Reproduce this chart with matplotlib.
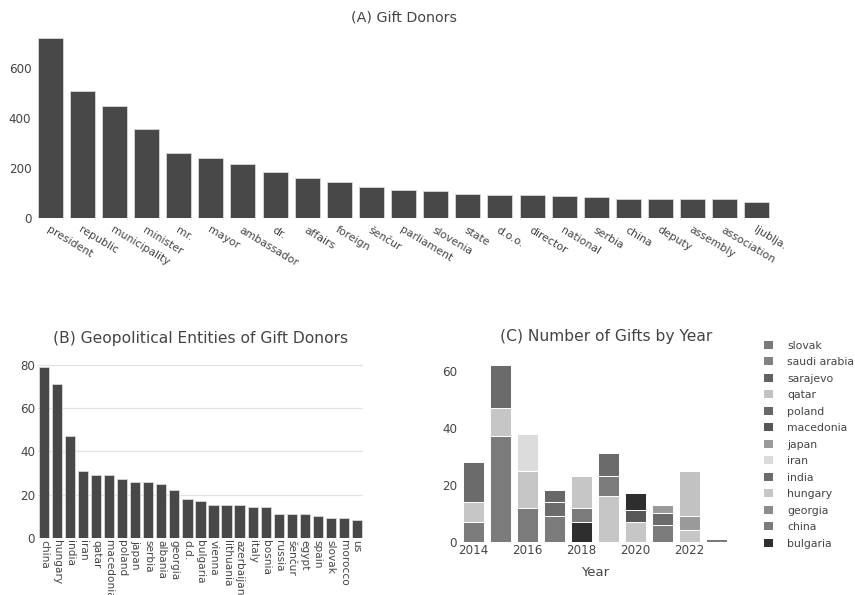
import matplotlib
matplotlib.use("Agg")
import matplotlib.pyplot as plt
from matplotlib.patches import Patch
import numpy as np

plt.rcParams['font.family'] = ['DejaVu Sans']
TXT = '#444444'

# (A) donor keywords
donor_terms = ['president', 'republic', 'municipality', 'minister', 'mr.', 'mayor',
               'ambassador', 'dr.', 'affairs', 'foreign', 'šenčur', 'parliament',
               'slovenia', 'state', 'd.o.o.', 'director', 'national', 'serbia',
               'china', 'deputy', 'assembly', 'association', 'ljublja.']
donor_counts = [719, 507, 447, 356, 260, 241, 217, 183, 161, 143, 123, 111,
                109, 95, 93, 93, 87, 85, 76, 76, 76, 76, 65]

# (B) geopolitical entities
gpe_names = ['china', 'hungary', 'india', 'iran', 'qatar', 'macedonia', 'poland',
             'japan', 'serbia', 'albania', 'georgia', 'd.d.', 'bulgaria', 'vienna',
             'lithuania', 'azerbaijan', 'italy', 'bosnia', 'russia', 'šenčur',
             'egypt', 'spain', 'slovak', 'morocco', 'us']
gpe_counts = [79, 71, 47, 31, 29, 29, 27, 26, 26, 25, 22, 18, 17, 15,
              15, 15, 14, 14, 11, 11, 11, 10, 9, 9, 8]

# (C) gifts per year, up to three stacked segments (bottom -> top)
years = [2014, 2015, 2016, 2017, 2018, 2019, 2020, 2021, 2022, 2023]
seg1_country = ['china', 'china', 'china', 'china', 'bulgaria', 'hungary', 'hungary', 'china', 'hungary', 'slovak']
seg1_value = [7, 37, 12, 9, 7, 16, 7, 6, 4, 1]
seg2_country = ['hungary', 'hungary', 'hungary', 'india', 'china', 'china', 'macedonia', 'india', 'japan', None]
seg2_value = [7, 10, 13, 5, 5, 7, 4, 4, 5, 0]
seg3_country = ['india', 'india', 'iran', 'poland', 'hungary', 'india', 'bulgaria', 'japan', 'qatar', None]
seg3_value = [14, 15, 13, 4, 11, 8, 6, 3, 16, 0]

legend_order = ['slovak', 'saudi arabia', 'sarajevo', 'qatar', 'poland', 'macedonia',
                'japan', 'iran', 'india', 'hungary', 'georgia', 'china', 'bulgaria']
country_gray = {
    'slovak': '#7a7a7a', 'saudi arabia': '#828282', 'sarajevo': '#626262',
    'qatar': '#c2c2c2', 'poland': '#676767', 'macedonia': '#575757',
    'japan': '#9a9a9a', 'iran': '#dcdcdc', 'india': '#6b6b6b',
    'hungary': '#c6c6c6', 'georgia': '#8c8c8c', 'china': '#7b7b7b',
    'bulgaria': '#2e2e2e',
}

BAR = '#484848'

fig = plt.figure(figsize=(8.55, 5.95), dpi=100)


def clean(ax):
    for s in ax.spines.values():
        s.set_visible(False)
    ax.tick_params(length=0, colors=TXT, labelsize=8.6, pad=2)


# --- (A)
ax1 = fig.add_axes([0.040, 0.634, 0.864, 0.317])
x1 = np.arange(len(donor_terms))
ax1.bar(x1, donor_counts, width=0.78, color=BAR, edgecolor='#d8d8d8', linewidth=0.6)
ax1.set_xlim(-0.5, len(donor_terms) - 0.5)
ax1.set_ylim(0, max(donor_counts) * 1.05)
ax1.set_yticks([0, 200, 400, 600])
ax1.set_xticks(x1)
ax1.set_xticklabels(donor_terms, rotation=-31, ha='left', va='top', rotation_mode='anchor')
clean(ax1)
ax1.tick_params(axis='x', pad=5, labelsize=7.8)
fig.text(0.472, 0.970, '(A) Gift Donors', ha='center', va='center', fontsize=10.3, color=TXT)

# --- (B)
ax2 = fig.add_axes([0.0444, 0.0963, 0.3802, 0.301])
x2 = np.arange(len(gpe_names))
ax2.bar(x2, gpe_counts, width=0.77, color=BAR, edgecolor='#d8d8d8', linewidth=0.6, zorder=3)
ax2.set_xlim(-0.5, len(gpe_names) - 0.5)
ax2.set_ylim(0, max(gpe_counts) * 1.05)
ax2.set_yticks([0, 20, 40, 60, 80])
ax2.set_xticks(x2)
ax2.set_xticklabels(gpe_names, rotation=-90, ha='left', va='center', rotation_mode='anchor')
ax2.grid(axis='y', color='#e2e2e2', linewidth=0.9, zorder=0)
clean(ax2)
ax2.tick_params(axis='x', labelsize=7.6)
ax2.set_title('(B) Geopolitical Entities of Gift Donors', fontsize=11.2, color=TXT, pad=11)

# --- (C)
ax3 = fig.add_axes([0.538, 0.0896, 0.316, 0.3114])
bottom = np.zeros(len(years))
for names, vals in [(seg1_country, seg1_value), (seg2_country, seg2_value), (seg3_country, seg3_value)]:
    cols = [country_gray[n] if n else 'none' for n in names]
    ax3.bar(years, vals, bottom=bottom, width=0.79, color=cols, edgecolor='white', linewidth=0.7)
    bottom += np.array(vals)
ax3.set_xlim(years[0] - 0.5, years[-1] + 0.5)
ax3.set_ylim(0, bottom.max() * 1.05)
ax3.set_yticks([0, 20, 40, 60])
ax3.set_xticks([2014, 2016, 2018, 2020, 2022])
clean(ax3)
ax3.set_xlabel('Year', color=TXT, fontsize=9.5, labelpad=6)
ax3.set_title('(C) Number of Gifts by Year', fontsize=11.2, color=TXT, pad=11, x=0.54)

handles = [Patch(facecolor=country_gray[c], edgecolor='none') for c in legend_order]
fig.legend(handles, legend_order, loc='upper left', bbox_to_anchor=(0.889, 0.435),
           frameon=False, fontsize=7.8, labelcolor=TXT, handlelength=0.8,
           handleheight=0.8, handletextpad=1.3, labelspacing=0.6, borderaxespad=0)

fig.savefig('out.png', dpi=100)
